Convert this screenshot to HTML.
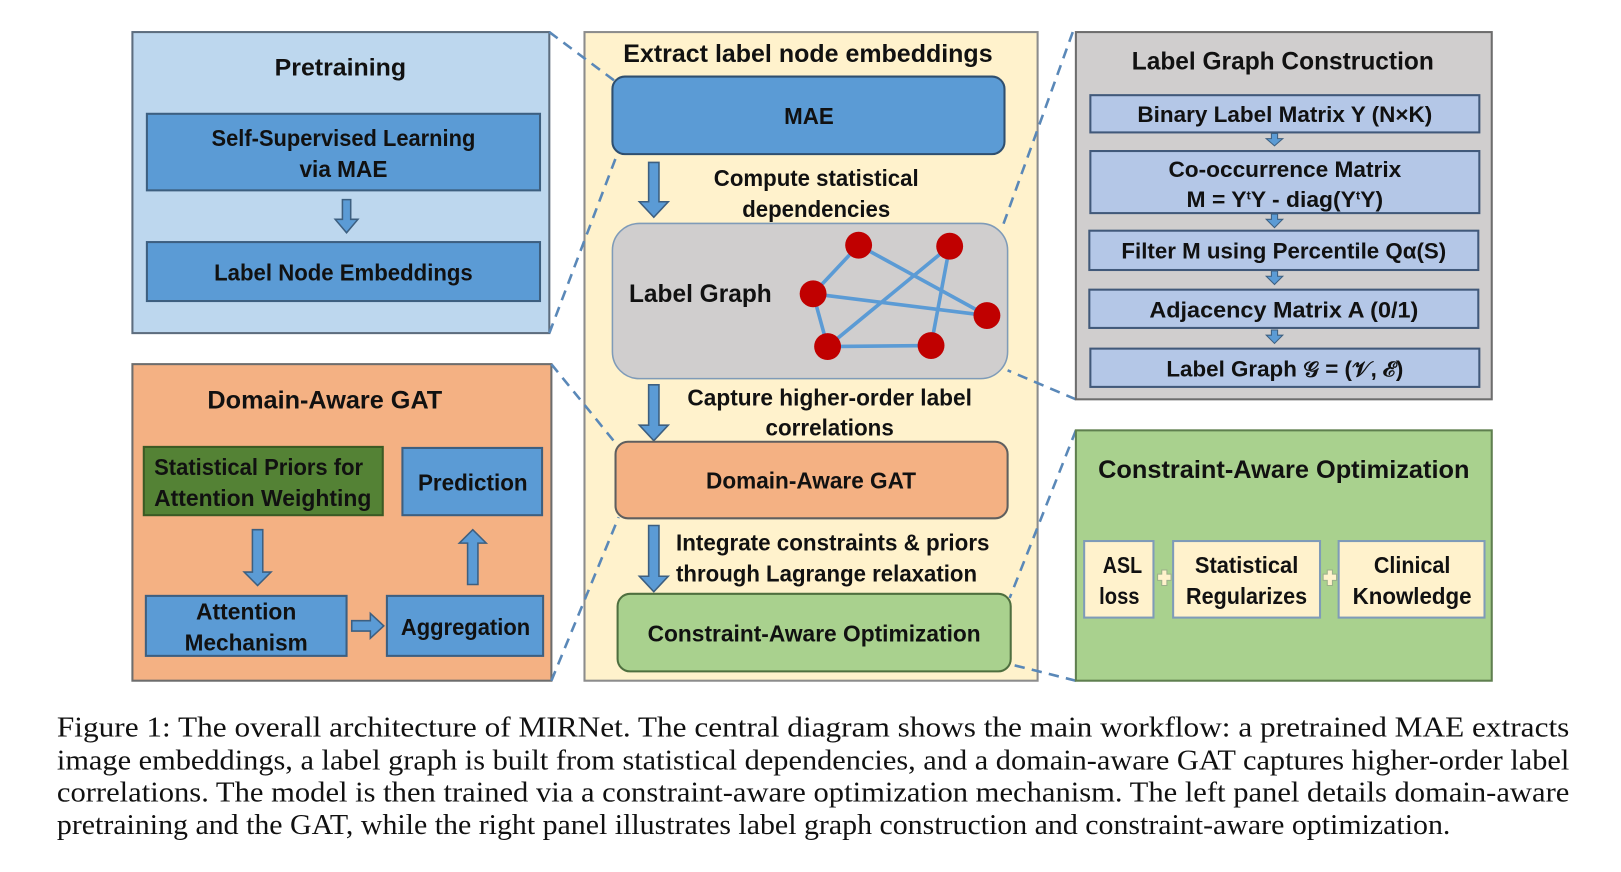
<!DOCTYPE html>
<html><head><meta charset="utf-8"><style>
html,body{margin:0;padding:0;background:#fff;}
svg{display:block;}
.t{font-family:"Liberation Sans",sans-serif;font-weight:bold;fill:#111;}
.c{font-family:"Liberation Serif",serif;fill:#111;font-size:28px;}
</style></head><body>
<svg width="1621" height="872" viewBox="0 0 1621 872" xmlns="http://www.w3.org/2000/svg">
<g transform="scale(1.0345)">
<!-- left panels -->
<rect x="128" y="31" width="403" height="291" fill="#bdd7ee" stroke="#5d6d7e" stroke-width="2"/>
<text class="t" x="329" y="73" font-size="23" text-anchor="middle" textLength="127" lengthAdjust="spacingAndGlyphs">Pretraining</text>
<rect x="142" y="110" width="380" height="74" fill="#5b9bd5" stroke="#3d5f80" stroke-width="2"/>
<text class="t" x="332" y="141" font-size="22" text-anchor="middle" textLength="255" lengthAdjust="spacingAndGlyphs">Self-Supervised Learning</text>
<text class="t" x="332" y="171" font-size="22" text-anchor="middle" textLength="85" lengthAdjust="spacingAndGlyphs">via MAE</text>
<polygon points="331,193 339,193 339,212 346,212 335,225 324,212 331,212" fill="#5b9bd5" stroke="#3d5f80" stroke-width="1.5"/>
<rect x="142" y="234" width="380" height="57" fill="#5b9bd5" stroke="#3d5f80" stroke-width="2"/>
<text class="t" x="332" y="271" font-size="22" text-anchor="middle" textLength="250" lengthAdjust="spacingAndGlyphs">Label Node Embeddings</text>

<rect x="128" y="352" width="405" height="306" fill="#f4b183" stroke="#6d6d6d" stroke-width="2"/>
<text class="t" x="314" y="395" font-size="24" text-anchor="middle" textLength="227" lengthAdjust="spacingAndGlyphs">Domain-Aware GAT</text>
<rect x="139" y="432" width="231" height="66" fill="#548235" stroke="#3b5a24" stroke-width="2"/>
<text class="t" x="250" y="459" font-size="22" text-anchor="middle" textLength="202" lengthAdjust="spacingAndGlyphs">Statistical Priors for</text>
<text class="t" x="254" y="489" font-size="22" text-anchor="middle" textLength="210" lengthAdjust="spacingAndGlyphs">Attention Weighting</text>
<rect x="389" y="433" width="135" height="65" fill="#5b9bd5" stroke="#3d5f80" stroke-width="2"/>
<text class="t" x="457" y="474" font-size="22" text-anchor="middle" textLength="106" lengthAdjust="spacingAndGlyphs">Prediction</text>
<polygon points="244,512 254,512 254,553 262,553 249,566 236,553 244,553" fill="#5b9bd5" stroke="#3d5f80" stroke-width="1.5"/>
<polygon points="452,565 462,565 462,525 470,525 457,512 444,525 452,525" fill="#5b9bd5" stroke="#3d5f80" stroke-width="1.5"/>
<rect x="141" y="576" width="194" height="58" fill="#5b9bd5" stroke="#3d5f80" stroke-width="2"/>
<text class="t" x="238" y="599" font-size="22" text-anchor="middle" textLength="97" lengthAdjust="spacingAndGlyphs">Attention</text>
<text class="t" x="238" y="629" font-size="22" text-anchor="middle" textLength="119" lengthAdjust="spacingAndGlyphs">Mechanism</text>
<polygon points="340,600 358,600 358,593 371,605 358,617 358,610 340,610" fill="#5b9bd5" stroke="#3d5f80" stroke-width="1.5"/>
<rect x="374" y="576" width="151" height="58" fill="#5b9bd5" stroke="#3d5f80" stroke-width="2"/>
<text class="t" x="450" y="614" font-size="22" text-anchor="middle" textLength="125" lengthAdjust="spacingAndGlyphs">Aggregation</text>

<!-- central panel -->
<rect x="565" y="31" width="438" height="627" fill="#fff2cc" stroke="#8c8c8c" stroke-width="2"/>
<g stroke="#5a88b8" stroke-width="2.5" stroke-dasharray="10,7" fill="none">
<line x1="531" y1="31" x2="594" y2="78"/>
<line x1="531" y1="322" x2="597" y2="148"/>
<line x1="533" y1="352" x2="598" y2="432"/>
<line x1="533" y1="658" x2="598" y2="500"/>
<line x1="1037" y1="31" x2="968" y2="222"/>
<line x1="1040" y1="386" x2="974" y2="358"/>
<line x1="1040" y1="416" x2="976" y2="578"/>
<line x1="1040" y1="658" x2="976" y2="642"/>
</g>
<text class="t" x="781" y="60" font-size="24" text-anchor="middle" textLength="357" lengthAdjust="spacingAndGlyphs">Extract label node embeddings</text>
<rect x="592" y="74" width="379" height="75" rx="12" fill="#5b9bd5" stroke="#2f4f6f" stroke-width="2"/>
<text class="t" x="782" y="120" font-size="22" text-anchor="middle" textLength="48" lengthAdjust="spacingAndGlyphs">MAE</text>
<polygon points="627,157 637,157 637,195 646,195 632,210 618,195 627,195" fill="#5b9bd5" stroke="#3d5f80" stroke-width="1.5"/>
<text class="t" x="789" y="180" font-size="22" text-anchor="middle" textLength="198" lengthAdjust="spacingAndGlyphs">Compute statistical</text>
<text class="t" x="789" y="210" font-size="22" text-anchor="middle" textLength="143" lengthAdjust="spacingAndGlyphs">dependencies</text>
<rect x="592" y="216" width="382" height="150" rx="26" fill="#d0cece" stroke="#7f9bb8" stroke-width="1.5"/>
<text class="t" x="677" y="292" font-size="24" text-anchor="middle" textLength="138" lengthAdjust="spacingAndGlyphs">Label Graph</text>
<g stroke="#5b9bd5" stroke-width="3.5">
<line x1="830" y1="237" x2="786" y2="284"/><line x1="830" y1="237" x2="954" y2="305"/>
<line x1="918" y1="238" x2="800" y2="335"/><line x1="918" y1="238" x2="900" y2="334"/>
<line x1="786" y1="284" x2="954" y2="305"/><line x1="800" y1="335" x2="900" y2="334"/>
<line x1="786" y1="284" x2="800" y2="335"/>
</g>
<g fill="#c00000"><circle cx="830" cy="237" r="13"/><circle cx="918" cy="238" r="13"/><circle cx="786" cy="284" r="13"/><circle cx="954" cy="305" r="13"/><circle cx="800" cy="335" r="13"/><circle cx="900" cy="334" r="13"/></g>
<polygon points="627,372 637,372 637,411 646,411 632,426 618,411 627,411" fill="#5b9bd5" stroke="#3d5f80" stroke-width="1.5"/>
<text class="t" x="802" y="392" font-size="22" text-anchor="middle" textLength="275" lengthAdjust="spacingAndGlyphs">Capture higher-order label</text>
<text class="t" x="802" y="421" font-size="22" text-anchor="middle" textLength="124" lengthAdjust="spacingAndGlyphs">correlations</text>
<rect x="595" y="427" width="379" height="74" rx="12" fill="#f4b183" stroke="#5f5f5f" stroke-width="2"/>
<text class="t" x="784" y="472" font-size="22" text-anchor="middle" textLength="203" lengthAdjust="spacingAndGlyphs">Domain-Aware GAT</text>
<polygon points="627,508 637,508 637,557 646,557 632,572 618,557 627,557" fill="#5b9bd5" stroke="#3d5f80" stroke-width="1.5"/>
<text class="t" x="805" y="532" font-size="22" text-anchor="middle" textLength="303" lengthAdjust="spacingAndGlyphs">Integrate constraints &amp; priors</text>
<text class="t" x="799" y="562" font-size="22" text-anchor="middle" textLength="291" lengthAdjust="spacingAndGlyphs">through Lagrange relaxation</text>
<rect x="597" y="574" width="380" height="75" rx="12" fill="#a9d18e" stroke="#4f6f3f" stroke-width="2"/>
<text class="t" x="787" y="620" font-size="22" text-anchor="middle" textLength="322" lengthAdjust="spacingAndGlyphs">Constraint-Aware Optimization</text>

<!-- right top -->
<rect x="1040" y="31" width="402" height="355" fill="#d0cece" stroke="#6d6d6d" stroke-width="2"/>
<text class="t" x="1240" y="67" font-size="24" text-anchor="middle" textLength="292" lengthAdjust="spacingAndGlyphs">Label Graph Construction</text>
<g fill="#b4c7e7" stroke="#41597a" stroke-width="2">
<rect x="1054" y="92" width="376" height="36"/>
<rect x="1054" y="146" width="376" height="60"/>
<rect x="1053" y="223" width="376" height="38"/>
<rect x="1053" y="280" width="376" height="37"/>
<rect x="1054" y="337" width="376" height="37"/>
</g>
<g fill="#5b9bd5" stroke="#3d5f80" stroke-width="1">
<polygon points="1229,129 1235,129 1235,134 1240,134 1232,141 1224,134 1229,134"/>
<polygon points="1229,207 1235,207 1235,212 1240,212 1232,220 1224,212 1229,212"/>
<polygon points="1229,262 1235,262 1235,267 1240,267 1232,275 1224,267 1229,267"/>
<polygon points="1229,319 1235,319 1235,324 1240,324 1232,332 1224,324 1229,324"/>
</g>
<text class="t" x="1242" y="118" font-size="21" text-anchor="middle" textLength="285" lengthAdjust="spacingAndGlyphs">Binary Label Matrix Y (N×K)</text>
<text class="t" x="1242" y="171" font-size="21" text-anchor="middle" textLength="225" lengthAdjust="spacingAndGlyphs">Co-occurrence Matrix</text>
<text class="t" x="1242" y="200" font-size="21" text-anchor="middle" textLength="190" lengthAdjust="spacingAndGlyphs">M = Y<tspan font-size="12" dy="-7">t</tspan><tspan dy="7">Y - diag(Y</tspan><tspan font-size="12" dy="-7">t</tspan><tspan dy="7">Y)</tspan></text>
<text class="t" x="1241" y="250" font-size="21" text-anchor="middle" textLength="314" lengthAdjust="spacingAndGlyphs">Filter M using Percentile Qα(S)</text>
<text class="t" x="1241" y="307" font-size="21" text-anchor="middle" textLength="260" lengthAdjust="spacingAndGlyphs">Adjacency Matrix A (0/1)</text>
<text class="t" x="1242" y="364" font-size="21" text-anchor="middle" textLength="229" lengthAdjust="spacingAndGlyphs">Label Graph 𝒢 = (𝒱, ℰ)</text>

<!-- right bottom -->
<rect x="1040" y="416" width="402" height="242" fill="#a9d18e" stroke="#5f7f4f" stroke-width="2"/>
<text class="t" x="1241" y="462" font-size="24" text-anchor="middle" textLength="359" lengthAdjust="spacingAndGlyphs">Constraint-Aware Optimization</text>
<g fill="#fff2cc" stroke="#7f9bb8" stroke-width="2">
<rect x="1048" y="523" width="67" height="74"/>
<rect x="1134" y="523" width="142" height="74"/>
<rect x="1294" y="523" width="141" height="74"/>
</g>
<g fill="#fff2cc" stroke="#9bb08a" stroke-width="1">
<polygon points="1119,555 1123,555 1123,551 1128,551 1128,555 1132,555 1132,561 1128,561 1128,566 1123,566 1123,561 1119,561"/>
<polygon points="1279,555 1283,555 1283,551 1288,551 1288,555 1292,555 1292,561 1288,561 1288,566 1283,566 1283,561 1279,561"/>
</g>
<text class="t" x="1085" y="554" font-size="22" text-anchor="middle" textLength="38" lengthAdjust="spacingAndGlyphs">ASL</text>
<text class="t" x="1082" y="584" font-size="22" text-anchor="middle" textLength="39" lengthAdjust="spacingAndGlyphs">loss</text>
<text class="t" x="1205" y="554" font-size="22" text-anchor="middle" textLength="100" lengthAdjust="spacingAndGlyphs">Statistical</text>
<text class="t" x="1205" y="584" font-size="22" text-anchor="middle" textLength="117" lengthAdjust="spacingAndGlyphs">Regularizes</text>
<text class="t" x="1365" y="554" font-size="22" text-anchor="middle" textLength="74" lengthAdjust="spacingAndGlyphs">Clinical</text>
<text class="t" x="1365" y="584" font-size="22" text-anchor="middle" textLength="115" lengthAdjust="spacingAndGlyphs">Knowledge</text>

<!-- caption -->
<text class="c" x="55" y="712" textLength="1462" lengthAdjust="spacingAndGlyphs">Figure 1: The overall architecture of MIRNet. The central diagram shows the main workflow: a pretrained MAE extracts</text>
<text class="c" x="55" y="744" textLength="1462" lengthAdjust="spacingAndGlyphs">image embeddings, a label graph is built from statistical dependencies, and a domain-aware GAT captures higher-order label</text>
<text class="c" x="55" y="775" textLength="1462" lengthAdjust="spacingAndGlyphs">correlations. The model is then trained via a constraint-aware optimization mechanism. The left panel details domain-aware</text>
<text class="c" x="55" y="806" textLength="1347" lengthAdjust="spacingAndGlyphs">pretraining and the GAT, while the right panel illustrates label graph construction and constraint-aware optimization.</text>
</g>
</svg>
</body></html>
